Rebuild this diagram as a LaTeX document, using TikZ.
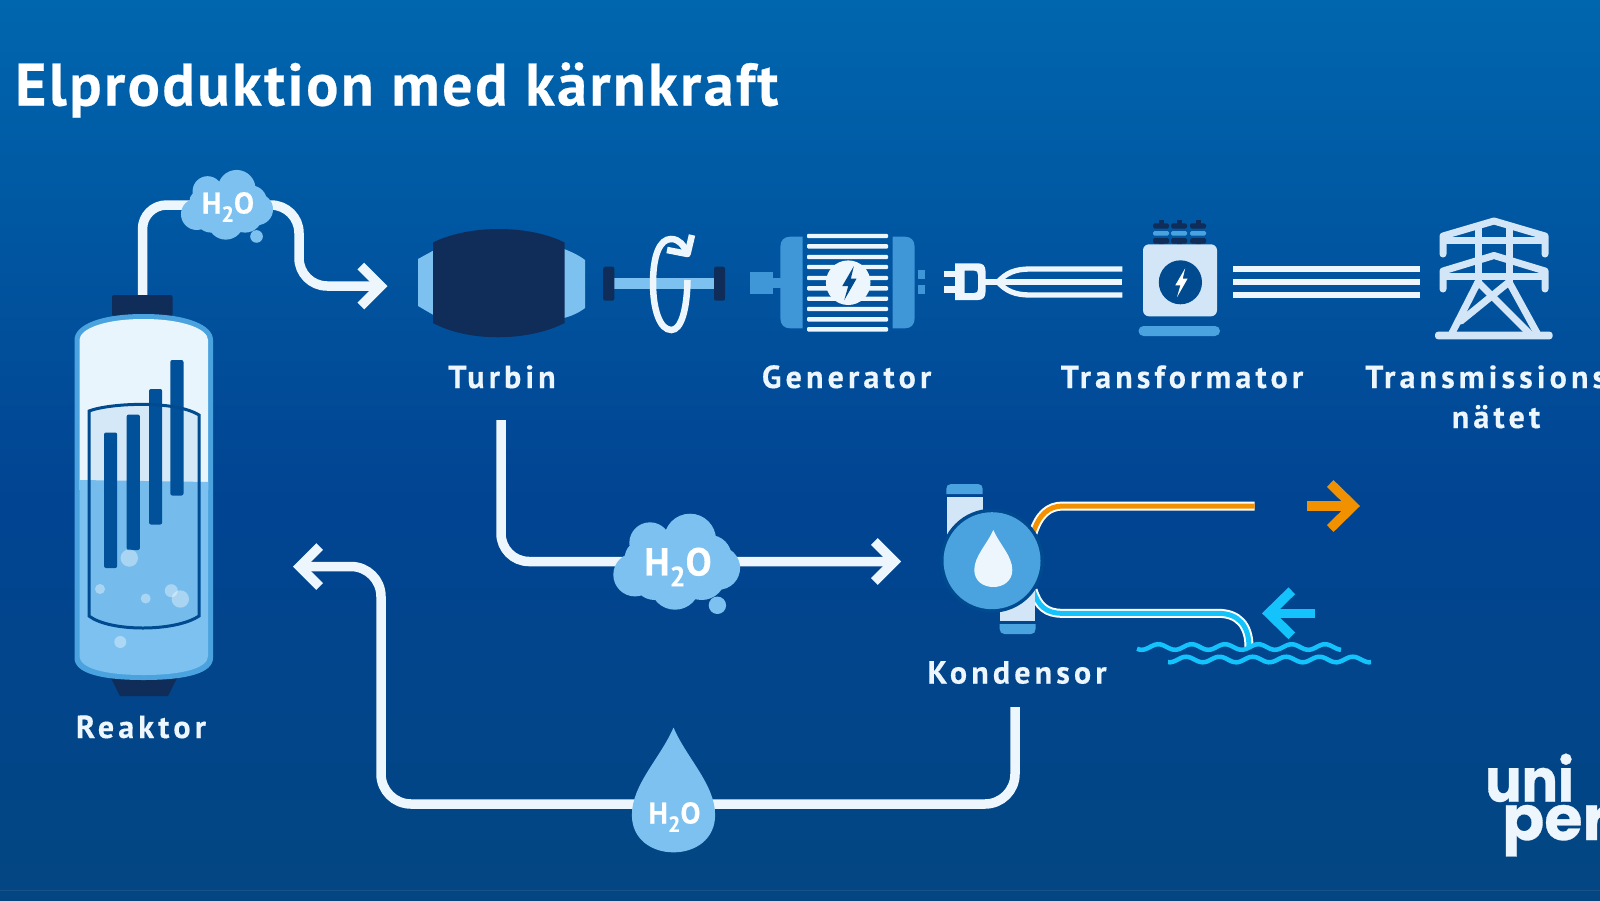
\documentclass[tikz,border=0pt]{standalone}
\usepackage{fontspec}
\usetikzlibrary{arrows.meta}
\setmainfont{PT Sans}[BoldFeatures={FakeBold=0.3}]
\newfontfamily\titlefont[LetterSpace=4.2,BoldFeatures={FakeBold=0.4}]{PT Sans}
\newfontfamily\labelfont[LetterSpace=13,BoldFeatures={FakeBold=0.3}]{PT Sans}
\newfontfamily\logofont[FakeStretch=0.9,BoldFeatures={FakeBold=0.5}]{Poppins}
\newfontfamily\logowidefont[BoldFeatures={FakeBold=0.5}]{Poppins}
\definecolor{bgtop}{HTML}{0066AE}
\definecolor{bgmid}{HTML}{014492}
\definecolor{bgbot}{HTML}{034682}
\definecolor{pipewhite}{HTML}{EDF6FD}
\definecolor{steam}{HTML}{7CC1EF}
\definecolor{midblue}{HTML}{4AA3DF}
\definecolor{genblue}{HTML}{3F97D8}
\definecolor{navy}{HTML}{0F2D58}
\definecolor{paleblue}{HTML}{D2E6F7}
\definecolor{roofwhite}{HTML}{E9F5FD}
\definecolor{rodblue}{HTML}{01509A}
\definecolor{deepblue}{HTML}{004A8F}
\definecolor{hot}{HTML}{F29100}
\definecolor{cold}{HTML}{14C3FB}
\tikzset{
  pipe/.style={draw=pipewhite,line width=9.5pt},
  headed/.style={-{Straight Barb[length=20pt,width=40pt]}},
  flowhead/.style={-{Straight Barb[length=23pt,width=45pt]}},
  cable/.style={draw=pipewhite,line width=5.3pt},
  towerbar/.style={draw=paleblue,line width=7pt,line cap=round,line join=round},
  stagelabel/.style={text=pipewhite,font=\labelfont\bfseries\fontsize{32}{38}\selectfont,inner sep=0pt,anchor=base},
  waterlabel/.style={text=white,inner sep=0pt,font=\bfseries},
}
% Steam cloud with its trailing droplet, centred on #1 and scaled by #2
\newcommand{\steamcloud}[2]{%
  \begin{scope}[shift={(#1)},scale=#2]
    \fill[steam] (-26.7,-19) circle (20.7) (13.3,-22.3) circle (26)
      (-41.7,12.7) circle (21.7) (41.7,6) circle (21.7) (-1.7,22.7) circle (25)
      (0,0) circle (32) (33,-5) circle (22) (25,14) circle (24) (-22,16) circle (22)
      (-34,-4) circle (18) (40.7,43.3) circle (8.7);
  \end{scope}}
% Water drop with its tip at #1, scaled by #2
\newcommand{\waterdrop}[3]{%
  \fill[#3,shift={(#1)},scale=#2] (0,0) .. controls (-6,14) and (-19,26) .. (-19,40)
    .. controls (-19,51) and (-10,57) .. (0,57) .. controls (10,57) and (19,51) .. (19,40)
    .. controls (19,26) and (6,14) .. (0,0) -- cycle;}
% Lightning bolt centred on #1, scaled by #2
\newcommand{\lightning}[3]{%
  \fill[#3,shift={(#1)},scale=#2] (5.6,-16.5) -- (-6,3.5) -- (0,3.5) -- (-4,17.5)
    -- (8.4,-4.2) -- (2.7,-4.2) -- cycle;}
\newcommand{\hho}[1]{H\raisebox{-0.28em}{\fontsize{#1}{#1}\selectfont 2}O}
\begin{document}
\begin{tikzpicture}[x=1pt,y=-1pt]
\useasboundingbox (0,0) rectangle (1600,900);
\clip (0,0) rectangle (1600,900);
% Background
\shade[top color=bgtop,bottom color=bgmid] (0,0) rectangle (1600,500);
\shade[top color=bgmid,bottom color=bgbot] (0,499.5) rectangle (1600,900);
\draw[white,opacity=.08,line width=.8pt] (0,890) -- (1600,890);

% Named places the connectors run through
\coordinate (cloudA) at (227,205);
\coordinate (cloudB) at (676.7,562);
\coordinate (dropC) at (673.5,804);
\coordinate (reactorTop) at (142.5,300);
\coordinate (bendAtop) at (299,205);
\coordinate (bendAlow) at (299,286);
\coordinate (turbineIn) at (387.5,286);
\coordinate (turbineOut) at (501,420);
\coordinate (condIn) at (901,561.5);
\coordinate (condOut) at (1015,707);
\coordinate (reactorIn) at (293,566.5);
\coordinate (bendBlow) at (381,804);
\coordinate (bendBtop) at (381,566.5);

% Main water and steam circuit
\draw[pipe,rounded corners=24pt] (reactorTop) |- (cloudA);
\draw[pipe,headed,rounded corners=28pt] (cloudA) -- (bendAtop) -- (bendAlow) -- (turbineIn);
\draw[pipe,headed,rounded corners=28pt] (turbineOut) |- (condIn);
\draw[pipe,rounded corners=30pt] (condOut) |- (dropC);
\draw[pipe,headed,rounded corners=30pt] (dropC) -- (bendBlow) -- (bendBtop) -- (reactorIn);

% Clouds and the feed-water drop
\steamcloud{cloudA}{.726}
\steamcloud{cloudB}{1}
\waterdrop{673.5,727.5}{2.19}{steam}
\node[waterlabel,font=\bfseries\fontsize{30}{30}\selectfont] (labelA) at (228,207) {\hho{22}};
\node[waterlabel,font=\bfseries\fontsize{39}{39}\selectfont] (labelB) at (678,567) {\hho{28}};
\node[waterlabel,font=\bfseries\fontsize{30}{30}\selectfont] (labelC) at (674.5,817) {\hho{22}};

% Reactor vessel
\fill[navy,rounded corners=2pt] (112,295) rectangle (172.5,316);
\fill[navy] (110,676) -- (178,676) -- (168,696) -- (120,696) -- cycle;
\fill[midblue] (74.5,340) .. controls (74.5,325) and (100,314) .. (143.5,314)
  .. controls (187,314) and (213,325) .. (213,340) -- (213,658)
  .. controls (213,673) and (187,680) .. (143.5,680)
  .. controls (100,680) and (74.5,673) .. (74.5,658) -- cycle;
\begin{scope}
  \clip (79.5,340) .. controls (79.5,329) and (104,319) .. (143.5,319)
    .. controls (183,319) and (208,329) .. (208,340) -- (208,656)
    .. controls (208,668) and (183,675) .. (143.5,675)
    .. controls (104,675) and (79.5,668) .. (79.5,656) -- cycle;
  \fill[roofwhite] (70,310) rectangle (220,490);
  \fill[steam] (70,480) -- (220,482) -- (220,690) -- (70,690) -- cycle;
\end{scope}
\begin{scope}
  \clip (89,411) .. controls (110,403) and (175,400) .. (199,415) -- (199,616)
    .. controls (175,632) and (110,632) .. (89,616) -- cycle;
  \fill[paleblue!85!roofwhite] (80,395) rectangle (210,490);
  \fill[steam!85!midblue] (80,480) -- (210,482) -- (210,640) -- (80,640) -- cycle;
\end{scope}
\foreach \xa/\ya in {104/432.5,126.7/414.5,149/389,170.3/360}
  \fill[rodblue,rounded corners=2pt] (\xa,\ya) rectangle ++(13.2,135.5);
\draw[deepblue,line width=3pt] (89,411) .. controls (110,403) and (175,400) .. (199,415) -- (199,616)
  .. controls (175,632) and (110,632) .. (89,616) -- cycle;
\foreach \xa/\ya/\ra in {129.3/558/8.7,100/589/5,145.7/598.5/5,171.3/590.7/6.5,180.3/599/8.7,120.3/642/6}
  \fill[white,opacity=.38] (\xa,\ya) circle (\ra);

% Turbine
\fill[steam] (433.5,250.5) -- (418,259) -- (418,306) -- (433.5,315) -- cycle;
\fill[steam] (564,249) .. controls (572,252) and (580,256) .. (585,260) -- (585,308)
  .. controls (580,312) and (572,316) .. (564,318) -- cycle;
\fill[navy] (433,242.5) .. controls (470,224) and (530,225) .. (564.5,242.5) -- (564.5,323)
  .. controls (530,341) and (470,343) .. (433,323) -- cycle;

% Rotating shaft
\fill[steam] (612,277.7) rectangle (716,288.7);
\fill[navy,rounded corners=2pt] (603.2,266.7) rectangle (614.3,300.7);
\fill[navy,rounded corners=2pt] (714,266.7) rectangle (725,300.7);
\draw[pipewhite,line width=6.5pt,line cap=butt]
  (687.5,280) .. controls (687,310) and (681,330) .. (671.4,330)
  .. controls (660,330) and (653,310) .. (653,283)
  .. controls (653,255) and (660,239) .. (671,239)
  .. controls (679,239) and (684,245) .. (687,254);
\draw[pipewhite,line width=6.5pt,line join=round] (692,235) -- (687.5,254) -- (667,250);

% Generator
\fill[genblue] (750,272.3) rectangle (773.2,293.7);
\fill[genblue] (772,277.7) rectangle (781,288.3);
\fill[genblue] (802.5,236.7) -- (790,236.7) .. controls (784,236.7) and (780.4,240.5) .. (780.4,246.5)
  -- (780.4,318.5) .. controls (780.4,324.5) and (784,328.3) .. (790,328.3) -- (802.5,328.3) -- cycle;
\fill[genblue] (892.5,236.7) -- (905,236.7) .. controls (911,236.7) and (914.6,240.5) .. (914.6,246.5)
  -- (914.6,318.5) .. controls (914.6,324.5) and (911,328.3) .. (905,328.3) -- (892.5,328.3) -- cycle;
\foreach \ya in {236,246.3,257,267,278,288.3,298.7,309,319.3,329.3}
  \fill[pipewhite,rounded corners=1pt] (807,\ya-2.2) rectangle (888,\ya+2.2);
\fill[pipewhite] (848.2,282.7) circle (22.3);
\lightning{848.2,282.7}{1}{deepblue}
\fill[genblue] (918,270.3) rectangle (924.6,279.3);
\fill[genblue] (918,284.7) rectangle (924.6,293.7);

% Plug and its three-phase cables
\fill[pipewhite,even odd rule] (955,263.3) -- (978,263.3) .. controls (983,263.3) and (985.5,266) .. (985.5,271)
  -- (985.5,292) .. controls (985.5,297) and (983,300) .. (978,300) -- (955,300) -- cycle
  (964.5,270.5) -- (974,270.5) .. controls (977,270.5) and (978,272) .. (978,275) -- (978,289)
  .. controls (978,292) and (977,293) .. (974,293) -- (964.5,293) -- cycle;
\fill[pipewhite] (943.7,270.7) rectangle (957,277.3);
\fill[pipewhite] (943.7,286) rectangle (957,292.7);
\coordinate (plugOut) at (984,282);
\coordinate (transIn) at (1122.3,282);
\draw[cable] (plugOut) -- (transIn);
\draw[cable] (998,282) .. controls (1006,273) and (1015,269) .. (1030,269) -- (1122.3,269);
\draw[cable] (998,282) .. controls (1006,291) and (1015,295) .. (1030,295) -- (1122.3,295);

% Transformer
\foreach \xa in {1161,1179,1198}{
  \fill[navy,rounded corners=1.5pt] (\xa-8,223.3) rectangle (\xa+8,228.5);
  \fill[navy] (\xa-2.5,220) rectangle (\xa+2.5,224);
  \fill[midblue,rounded corners=1.5pt] (\xa-8,231) rectangle (\xa+8,235.7);
  \fill[navy,rounded corners=1.5pt] (\xa-8,238) rectangle (\xa+8,243.5);
  \fill[navy] (\xa-2.5,242) rectangle (\xa+2.5,246);
}
\fill[paleblue,rounded corners=6pt] (1143,244.3) rectangle (1217,316.3);
\fill[deepblue] (1180.4,282.3) ellipse (21.6 and 22);
\lightning{1180.4,282.3}{.85}{white}
\fill[midblue,rounded corners=5pt] (1138.5,326) rectangle (1220,336);

% Lines out to the grid
\coordinate (gridA) at (1233.4,269);
\coordinate (gridB) at (1233.4,282);
\coordinate (gridC) at (1233.4,295);
\coordinate (towerA) at (1420,269);
\coordinate (towerB) at (1420,282);
\coordinate (towerC) at (1420,295);
\draw[cable] (gridA) -- (towerA);
\draw[cable] (gridB) -- (towerB);
\draw[cable] (gridC) -- (towerC);

% Transmission tower
\draw[towerbar] (1443,254) -- (1443,236) -- (1494,221) -- (1545,236) -- (1545,254);
\draw[towerbar] (1443,289) -- (1443,271) -- (1494,255.5) -- (1545,271) -- (1545,289);
\draw[towerbar] (1445,240.5) -- (1543,240.5);
\draw[towerbar] (1445,276) -- (1543,276);
\draw[towerbar] (1478,226) -- (1478,282);
\draw[towerbar] (1509,226) -- (1509,282);
\draw[towerbar] (1478,282) -- (1452,333);
\draw[towerbar] (1509,282) -- (1537,333);
\draw[towerbar] (1478,282) -- (1529,333);
\draw[towerbar] (1509,282) -- (1461,321);
\fill[paleblue,rounded corners=3pt] (1435,331.7) rectangle (1552.6,339.3);

% Condenser
\coordinate (hotStart) at (1033,533);
\coordinate (hotEnd) at (1254.7,506);
\coordinate (coldStart) at (1033,590);
\coordinate (coldEnd) at (1249,647);
\foreach \colr/\wd in {white/9pt,hot/5pt}
  \draw[\colr,line width=\wd] (hotStart) .. controls (1039,515) and (1048,506) .. (1063,506) -- (hotEnd);
\foreach \colr/\wd in {white/9pt,cold/5pt}
  \draw[\colr,line width=\wd] (coldStart) .. controls (1038,606) and (1046,613.3) .. (1062,613.3) -- (1218,613.3)
    .. controls (1238,613.3) and (1249,625) .. (coldEnd);
\fill[paleblue] (947.3,497.3) rectangle (982.7,540);
\fill[paleblue] (999.7,585) rectangle (1035,620.7);
\fill[midblue] (946.3,494) -- (946.3,489) .. controls (946.3,486) and (948,484) .. (951,484) -- (978,484)
  .. controls (981,484) and (982.7,486) .. (982.7,489) -- (982.7,494) -- cycle;
\fill[midblue] (999.7,624) -- (999.7,629) .. controls (999.7,632) and (1001.5,634) .. (1004.5,634) -- (1031,634)
  .. controls (1034,634) and (1035.5,632) .. (1035.5,629) -- (1035.5,624) -- cycle;
\fill[deepblue] (992,560.7) circle (52);
\fill[midblue] (992,560.7) circle (48.5);
\waterdrop{993.3,530}{1}{pipewhite}

% Cooling-water arrows and the sea
\coordinate (hotTail) at (1307,506);
\coordinate (hotTip) at (1360,506);
\coordinate (coldTail) at (1314.7,613.3);
\coordinate (coldTip) at (1262,613.3);
\draw[hot,line width=9.5pt,flowhead] (hotTail) -- (hotTip);
\draw[cold,line width=9.5pt,flowhead] (coldTail) -- (coldTip);
\draw[cold,line width=4.5pt] plot[domain=1137:1341,samples=90] (\x,{647+2.8*sin(10.8*\x)});
\draw[cold,line width=4.5pt] plot[domain=1168:1371,samples=90] (\x,{659.5+2.8*sin(10.8*\x+60)});

% Title and stage names
\node[text=white,font=\titlefont\bfseries\fontsize{60}{64}\selectfont,inner sep=0pt,anchor=base west] (title) at (15,105.5) {Elproduktion med kärnkraft};
\node[stagelabel] (turbinName) at (502,388) {Turbin};
\node[stagelabel] (generatorName) at (846.6,388) {Generator};
\node[stagelabel] (transformerName) at (1182,388) {Transformator};
\node[stagelabel,anchor=base west] (gridName) at (1365,388) {Transmissions};
\node[stagelabel] (gridNameB) at (1496,428) {nätet};
\node[stagelabel] (reactorName) at (141,738) {Reaktor};
\node[stagelabel] (condenserName) at (1017,683.5) {Kondensor};

% Company mark, running off the edge of the page
\node[text=pipewhite,font=\logofont\bfseries\fontsize{60}{60}\selectfont,inner sep=0pt,anchor=base west] (logoTop) at (1485,801.7) {uni};
\node[text=pipewhite,font=\logowidefont\bfseries\fontsize{62}{62}\selectfont,inner sep=0pt,anchor=base west] (logoBottom) at (1502,840) {per};
\end{tikzpicture}
\end{document}
